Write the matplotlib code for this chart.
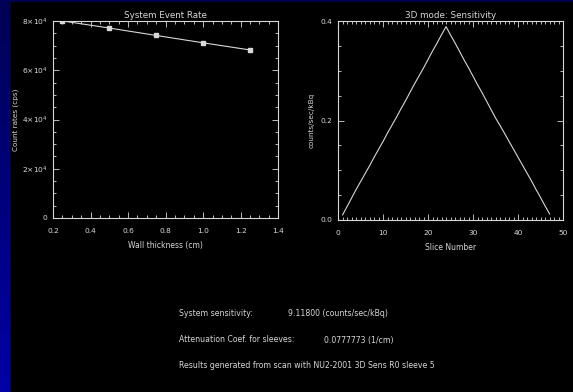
# Wall thickness / sensitivity summary page

import numpy as np
import matplotlib.pyplot as plt
from matplotlib.ticker import MultipleLocator, FixedLocator, FormatStrFormatter

fg = '#d8d8d8'                                         # Foreground (text and lines)

                                                       # Event rate vs wall thickness
wall = [0.25, 0.50, 0.75, 1.00, 1.25]
rate = [80100, 77200, 74200, 71200, 68300]

                                                       # Sensitivity profile per slice
slices = list(range(1, 48))
sens = [0.010, 0.027, 0.044, 0.061, 0.077, 0.093, 0.109, 0.126, 0.142, 0.158,
        0.175, 0.191, 0.207, 0.224, 0.240, 0.257, 0.274, 0.290, 0.306, 0.323,
        0.340, 0.356, 0.373, 0.389, 0.372, 0.356, 0.339, 0.322, 0.306, 0.289,
        0.272, 0.256, 0.239, 0.222, 0.205, 0.190, 0.174, 0.158, 0.142, 0.126,
        0.110, 0.094, 0.078, 0.061, 0.045, 0.028, 0.012]

rate_ticks = [0, 20000, 40000, 60000, 80000]
rate_labels = ['0', r'2$\times$10$^4$', r'4$\times$10$^4$', r'6$\times$10$^4$', r'8$\times$10$^4$']

fig = plt.figure(figsize=(5.73, 3.92), dpi=100)
fig.patch.set_facecolor('black')

                                                       # Blue slide frame behind the page
bg = fig.add_axes([0, 0, 1, 1], zorder=-10)
grad = np.linspace(0, 1, 100).reshape(-1, 1)
bg.imshow(np.dstack([grad*0.0, grad*0.0, 0.33 + grad*0.32]), aspect='auto',
          extent=[0, 1, 1, 0], origin='upper')
bg.add_patch(plt.Rectangle((11/573, 2/392), 1, 1, color='black'))
bg.set_xlim(0, 1)
bg.set_ylim(1, 0)
bg.axis('off')


def style(ax):
    ax.set_facecolor('black')
    for s in ax.spines.values():
        s.set_color(fg)
        s.set_linewidth(0.8)
    ax.tick_params(which='both', direction='in', colors=fg, top=True, right=True,
                   labelsize=5.4, width=0.6)
    ax.tick_params(axis='x', pad=7)
    ax.tick_params(axis='y', pad=4)
    ax.tick_params(which='major', length=4)
    ax.tick_params(which='minor', length=2)


ax1 = fig.add_axes([0.0925, 0.444, 0.393, 0.502])
ax1.plot(wall, rate, '-', color=fg, lw=0.8, marker='s', ms=2.2)
ax1.set_xlim(0.2, 1.4)
ax1.set_ylim(0, 80000)
ax1.xaxis.set_major_locator(MultipleLocator(0.2))
ax1.xaxis.set_minor_locator(MultipleLocator(0.05))
ax1.xaxis.set_major_formatter(FormatStrFormatter('%.1f'))
ax1.yaxis.set_major_locator(FixedLocator(rate_ticks))
ax1.yaxis.set_minor_locator(MultipleLocator(5000))
ax1.set_yticklabels(rate_labels)
ax1.set_title('System Event Rate', color=fg, fontsize=6.3, pad=2)
ax1.set_xlabel('Wall thickness (cm)', color=fg, fontsize=5.5, labelpad=5)
ax1.set_ylabel('Count rates (cps)', color=fg, fontsize=5.2, labelpad=2)
style(ax1)

ax2 = fig.add_axes([0.590, 0.439, 0.3927, 0.507])
ax2.plot(slices, sens, '-', color=fg, lw=0.8)
ax2.set_xlim(0, 50)
ax2.set_ylim(0, 0.4)
ax2.xaxis.set_major_locator(MultipleLocator(10))
ax2.xaxis.set_minor_locator(MultipleLocator(1))
ax2.yaxis.set_major_locator(MultipleLocator(0.2))
ax2.yaxis.set_minor_locator(MultipleLocator(0.05))
ax2.yaxis.set_major_formatter(FormatStrFormatter('%.1f'))
ax2.set_title('3D mode: Sensitivity', color=fg, fontsize=6.3, pad=2)
ax2.set_xlabel('Slice Number', color=fg, fontsize=5.5, labelpad=5)
ax2.set_ylabel('counts/sec/kBq', color=fg, fontsize=5.2, labelpad=4)
style(ax2)

                                                       # Summary lines below the plots
fs = 5.6
fig.text(179/573, 1 - 314/392, 'System sensitivity:', color=fg, fontsize=fs, va='center')
fig.text(288/573, 1 - 314/392, '9.11800 (counts/sec/kBq)', color=fg, fontsize=fs, va='center')
fig.text(179/573, 1 - 340/392, 'Attenuation Coef. for sleeves:', color=fg, fontsize=fs, va='center')
fig.text(324/573, 1 - 340/392, '0.0777773 (1/cm)', color=fg, fontsize=fs, va='center')
fig.text(179/573, 1 - 366/392, 'Results generated from scan with NU2-2001 3D Sens R0 sleeve 5',
         color=fg, fontsize=fs, va='center')

plt.savefig('out.png', dpi=100, facecolor=fig.get_facecolor())
